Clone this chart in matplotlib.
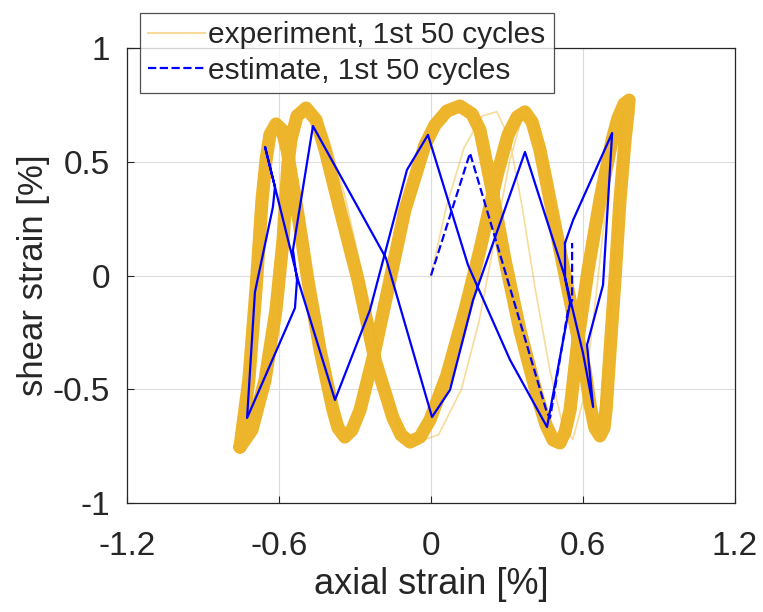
import matplotlib
matplotlib.use("Agg")
import matplotlib.pyplot as plt
from matplotlib.lines import Line2D

plt.rcParams['font.family'] = ['Liberation Sans', 'DejaVu Sans']
plt.rcParams['axes.unicode_minus'] = False

# experiment: one steady loading cycle (axial, shear) in %
exp_x = [-0.754, -0.719, -0.691, -0.667, -0.651, -0.636, -0.612, -0.588, -0.568, -0.525,
         -0.486, -0.438, -0.387, -0.367, -0.340, -0.312, -0.280, -0.221, -0.162, -0.103,
         -0.024, 0.016, 0.063, 0.114, 0.162, 0.193, 0.241, 0.292, 0.351, 0.418,
         0.454, 0.482, 0.509, 0.529, 0.549, 0.580, 0.620, 0.667, 0.715, 0.738,
         0.762, 0.782, 0.778, 0.766, 0.746, 0.726, 0.707, 0.691, 0.683, 0.667,
         0.647, 0.628, 0.608, 0.557, 0.501, 0.450, 0.430, 0.399, 0.371, 0.340,
         0.304, 0.261, 0.193, 0.134, 0.063, -0.004, -0.043, -0.083, -0.118, -0.150,
         -0.221, -0.288, -0.359, -0.418, -0.454, -0.493, -0.529, -0.553, -0.565, -0.584,
         -0.612, -0.655, -0.707, -0.754]
exp_y = [-0.754, -0.459, -0.064, 0.332, 0.508, 0.618, 0.666, 0.640, 0.552, 0.266,
         -0.020, -0.327, -0.591, -0.670, -0.710, -0.679, -0.591, -0.327, -0.020, 0.288,
         0.574, 0.662, 0.723, 0.745, 0.710, 0.640, 0.376, 0.068, -0.240, -0.525,
         -0.657, -0.723, -0.736, -0.688, -0.591, -0.283, 0.024, 0.332, 0.596, 0.692,
         0.754, 0.771, 0.719, 0.596, 0.332, -0.020, -0.327, -0.591, -0.670, -0.705,
         -0.670, -0.569, -0.415, -0.152, 0.156, 0.442, 0.552, 0.675, 0.719, 0.697,
         0.618, 0.442, 0.112, -0.152, -0.437, -0.635, -0.710, -0.732, -0.701, -0.626,
         -0.371, -0.020, 0.288, 0.552, 0.684, 0.736, 0.701, 0.596, 0.486, 0.156,
         -0.152, -0.459, -0.679, -0.754]

# experiment: first cycle starting from zero
first_x = [0.0, 0.06, 0.13, 0.20, 0.26, 0.31, 0.36, 0.41, 0.47, 0.52, 0.56, 0.60, 0.64,
           0.68, 0.72, 0.76, 0.74, 0.72, 0.69, 0.66, 0.62, 0.57, 0.51, 0.46, 0.41, 0.36,
           0.31, 0.25, 0.19, 0.12, 0.03, -0.05, -0.12, -0.20, -0.27, -0.34, -0.41, -0.47]
first_y = [0.0, 0.30, 0.56, 0.70, 0.72, 0.60, 0.30, -0.05, -0.42, -0.66, -0.72, -0.55, -0.20,
           0.20, 0.55, 0.72, 0.40, 0.0, -0.40, -0.66, -0.60, -0.30, 0.10, 0.45, 0.68, 0.70,
           0.50, 0.15, -0.20, -0.50, -0.70, -0.73, -0.68, -0.40, 0.0, 0.35, 0.62, 0.72]

# estimate, first part (dashed)
est1_x = [0.0, 0.154, 0.458, 0.470, 0.541, 0.557, 0.557]
est1_y = [0.0, 0.538, -0.604, -0.626, -0.152, -0.108, 0.143]

# estimate, following cycles (solid)
est2_x = [0.529, 0.561, 0.715, 0.679, 0.616, 0.640, 0.600, 0.529, 0.371, 0.166, 0.075,
          0.004, -0.178, -0.466, -0.545, -0.529, -0.537, -0.726, -0.695, -0.624, -0.616,
          -0.655, -0.525, -0.379, -0.241, -0.095, -0.012, 0.146, 0.312, 0.458, 0.549,
          0.529, 0.529]
est2_y = [0.143, 0.244, 0.626, -0.042, -0.305, -0.578, -0.341, -0.007, 0.543, -0.108, -0.503,
          -0.622, 0.077, 0.657, 0.112, -0.020, -0.143, -0.626, -0.073, 0.301, 0.389,
          0.565, -0.020, -0.547, -0.152, 0.464, 0.618, 0.046, -0.371, -0.666, -0.121,
          -0.011, 0.143]

xticks = [-1.2, -0.6, 0, 0.6, 1.2]
xtick_labels = ['-1.2', '-0.6', '0', '0.6', '1.2']
yticks = [-1, -0.5, 0, 0.5, 1]
ytick_labels = ['-1', '-0.5', '0', '0.5', '1']

orange = '#EDB120'
blue = '#0000FF'
dark = '#262626'

fig = plt.figure(figsize=(7.63, 6.12), dpi=100)
ax = fig.add_axes([127 / 763, 109 / 612, 608 / 763, 455 / 612])

ax.plot(exp_x, exp_y, color=orange, lw=9.5, alpha=0.95, solid_joinstyle='round',
        solid_capstyle='round', zorder=2)
ax.plot(first_x, first_y, color=orange, lw=1.2, alpha=0.45, zorder=2)

ax.plot(est1_x, est1_y, color=blue, lw=1.6, ls='--', zorder=3)
ax.plot(est2_x, est2_y, color=blue, lw=1.6, zorder=3)

ax.set_xlim(-1.2, 1.2)
ax.set_ylim(-1, 1)
ax.set_xticks(xticks)
ax.set_xticklabels(xtick_labels)
ax.set_yticks(yticks)
ax.set_yticklabels(ytick_labels)
ax.tick_params(direction='in', length=5, width=0.8, labelsize=24, colors=dark)
ax.tick_params(axis='x', pad=20)
ax.tick_params(axis='y', pad=12)
ax.grid(True, color='#dcdcdc', lw=0.8)
ax.set_axisbelow(True)
for s in ax.spines.values():
    s.set_color(dark)
    s.set_linewidth(0.9)

ax.set_xlabel('axial strain [%]', fontsize=26, color=dark, labelpad=4)
ax.set_ylabel('shear strain [%]', fontsize=25, color=dark, labelpad=2)

handles = [Line2D([], [], color=orange, alpha=0.45, lw=1.5),
           Line2D([], [], color=blue, lw=1.6, ls='--')]
leg = fig.legend(handles, ['experiment, 1st 50 cycles', 'estimate, 1st 50 cycles'],
                 loc='upper left', bbox_to_anchor=(140 / 763, 1 - 13 / 612),
                 fontsize=21.5, frameon=True, fancybox=False, borderaxespad=0,
                 handlelength=1.9, handletextpad=0.1, borderpad=0.28, labelspacing=0.25)
leg.get_frame().set_edgecolor(dark)
leg.get_frame().set_linewidth(0.9)
for t in leg.get_texts():
    t.set_color(dark)

fig.savefig('out.png', dpi=100)
